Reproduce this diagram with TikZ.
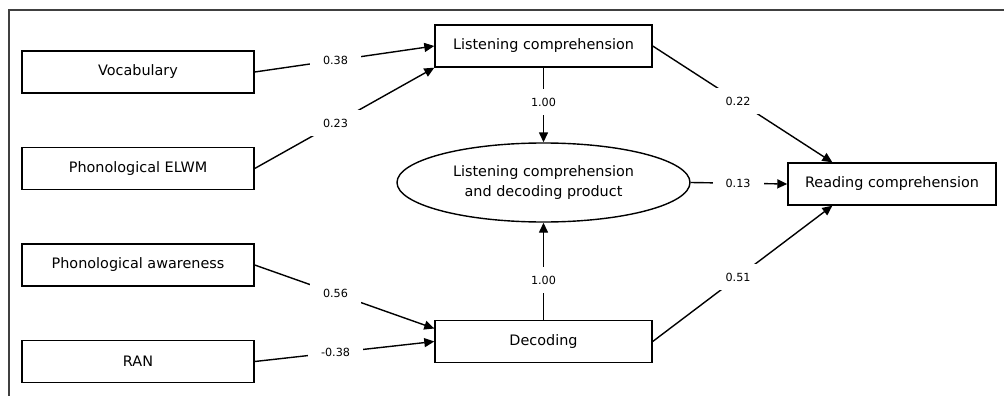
\documentclass[tikz,border=0pt]{standalone}
\usepackage{fontspec}
\setmainfont{DejaVu Sans}
\usepackage{tikz}
\usetikzlibrary{shapes,arrows.meta,positioning}
\tikzset{var/.style={draw, line width=1.4pt, minimum height=42pt, inner sep=0pt, font=\fontsize{14.4}{20}\selectfont},
  coef/.style={fill=white, inner xsep=13pt, inner ysep=9pt, font=\fontsize{11.2}{13}\selectfont},
  link/.style={line width=1.4pt, -{Triangle[length=10pt,width=9pt]}}}

\begin{document}
\begin{tikzpicture}[x=1pt, y=-1pt]
                \useasboundingbox (0,0) rectangle (1004,396);
                \draw[line width=1.2pt, black!75] (9,396) -- (9,10) -- (1004,10);

                % predictors
                \node [var, minimum width=232pt] (voc) at (138,72) {Vocabulary};
                \node [var, minimum width=232pt] (elwm) at (138,168.5) {Phonological ELWM};
                \node [var, minimum width=232pt] (pa) at (138,265) {Phonological awareness};
                \node [var, minimum width=232pt] (ran) at (138,361.5) {RAN};

                % components
                \node [var, minimum width=217pt] (lc) at (543.5,46) {Listening comprehension};
                \node [var, minimum width=217pt] (dec) at (543.5,341.5) {Decoding};
                \node [var, ellipse, align=center, minimum width=293pt, minimum height=79pt] (prod) at (543.5,182.5)
                    {Listening comprehension\\and decoding product};

                % outcome
                \node [var, minimum width=208pt] (rc) at (892,184) {Reading comprehension};

                \path[link] (voc.east) edge node[coef, pos=.45] {0.38} (lc.west)
                    (elwm.east) edge node[coef, pos=.45] {0.23} (lc.south west)
                    (pa.east) edge node[coef, pos=.45] {0.56} ([yshift=13pt]dec.west)
                    (ran.east) edge node[coef, pos=.45] {-0.38} (dec.west);

                \path[link] (lc.south) edge node[coef, pos=.46] {1.00} (prod.north)
                    (dec.north) edge node[coef, pos=.41] {1.00} (prod.south);

                \path[link] (lc.east) edge node[coef, pos=.475] {0.22} (rc.160)
                    (prod.east) edge node[coef, pos=.49] {0.13} (rc.west)
                    (dec.east) edge node[coef, pos=.475] {0.51} (rc.200);

            \end{tikzpicture}
\end{document}
